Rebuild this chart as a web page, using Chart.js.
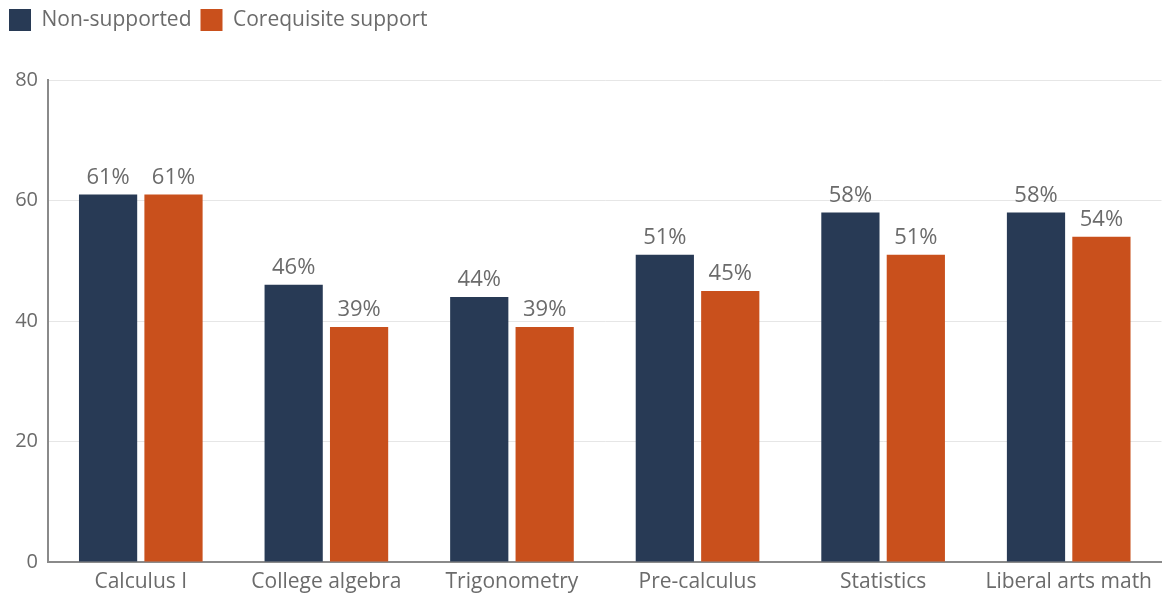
<!DOCTYPE html>
<html><head><meta charset="utf-8">
<script src="https://cdn.jsdelivr.net/npm/chart.js@4/dist/chart.umd.min.js"></script>
<style>html,body{margin:0;padding:0;background:#fff}#wrap{width:1162px;height:594px}</style>
</head><body><div id="wrap"><canvas id="c"></canvas></div>
<script>
const categories = ["Calculus I","College algebra","Trigonometry","Pre-calculus","Statistics","Liberal arts math"];
const nonSupported = [61,46,44,51,58,58];
const corequisite = [61,39,39,45,51,54];
const seriesNames = ["Non-supported","Corequisite support"];
const yTicks = [0,20,40,60,80];
const FONT = '"Open Sans", Lato, sans-serif';

const labelPlugin = {
  id:'valLabels',
  afterDatasetsDraw(chart){
    const ctx = chart.ctx;
    ctx.save();
    ctx.font = '22px ' + FONT;
    ctx.fillStyle = '#6b6b6b';
    ctx.textAlign = 'center';
    ctx.textBaseline = 'bottom';
    chart.data.datasets.forEach((ds,i)=>{
      chart.getDatasetMeta(i).data.forEach((bar,j)=>{
        ctx.fillText(ds.data[j]+'%', bar.x, bar.y-6);
      });
    });
    ctx.restore();
  }
};

new Chart(document.getElementById('c'),{
  type:'bar',
  data:{labels:categories,datasets:[
    {label:seriesNames[0],data:nonSupported,backgroundColor:'#283a55'},
    {label:seriesNames[1],data:corequisite,backgroundColor:'#c9501c'}
  ]},
  options:{
    responsive:true,maintainAspectRatio:false,animation:false,
    layout:{padding:{left:0,right:0,top:0,bottom:0}},
    categoryPercentage:0.705,barPercentage:0.89,
    plugins:{
      legend:{position:'top',align:'start',
        labels:{boxWidth:22,boxHeight:22,padding:9,color:'#6b6b6b',font:{size:21,family:FONT}}},
      tooltip:{enabled:false}
    },
    scales:{
      x:{grid:{display:false,drawTicks:false},border:{color:'#8a8a8a',width:2},
        afterFit(ax){ax.height=32;},
        ticks:{color:'#6b6b6b',padding:10,font:{size:21,family:FONT,lineHeight:1.0}}},
      y:{min:0,max:80,afterBuildTicks(ax){ax.ticks=yTicks.map(v=>({value:v}));},
        afterFit(ax){ax.width=48;},
        grid:{color:'#e6e6e6',drawTicks:false},border:{color:'#8a8a8a',width:2},
        ticks:{color:'#6b6b6b',padding:10,font:{size:20,family:FONT,lineHeight:0.2}}}
    }
  },
  plugins:[labelPlugin,{id:'legendMargin',beforeInit(chart){const f=chart.legend.fit;chart.legend.fit=function(){f.bind(chart.legend)();this.height=80;};}}]
});
</script></body></html>
